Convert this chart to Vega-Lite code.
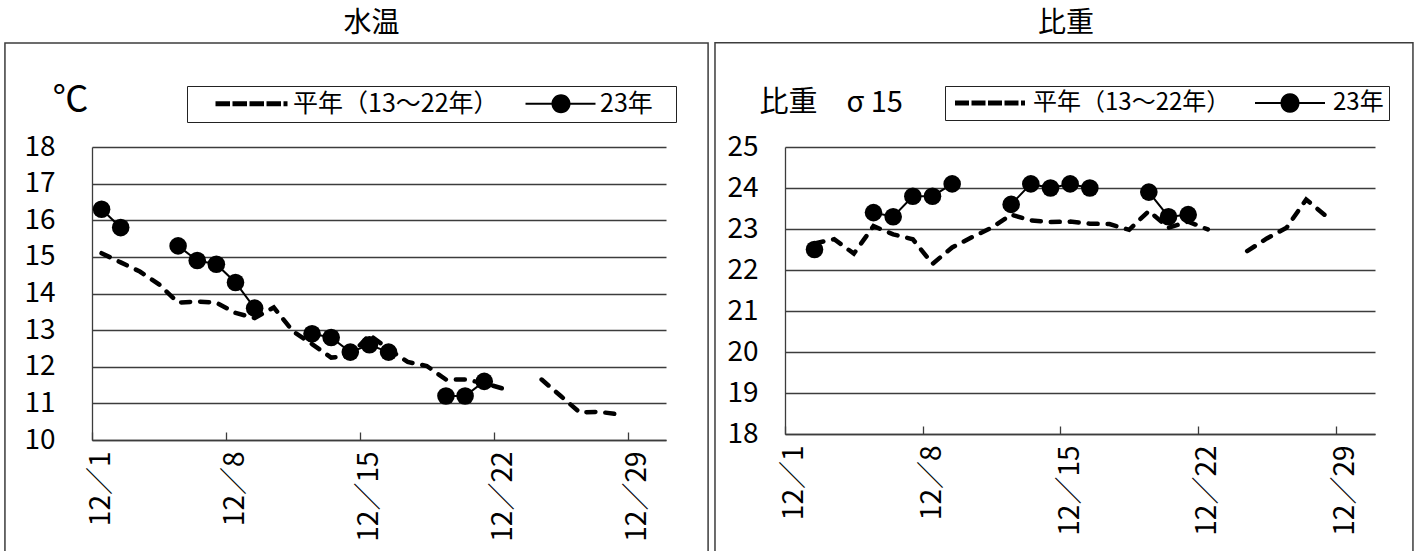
{
  "$schema": "https://vega.github.io/schema/vega-lite/v6.json",
  "padding": {"left": 4, "top": 10, "right": 0, "bottom": 0},
  "spacing": 5,
  "background": "white",
  "config": {
    "view": {"stroke": null},
    "font": "Noto Sans CJK JP",
    "axis": {"labelFont": "Noto Sans CJK JP", "titleFont": "Noto Sans CJK JP", "labelColor": "#000", "titleColor": "#000", "titleFontWeight": "normal", "labelOverlap": false, "domainColor": "#3c3c3c", "domainWidth": 1.3, "labelFontSize": 28},
    "axisX": {"labelExpr": "'12／' + datum.value", "labelAngle": 270, "labelPadding": 19, "tickSize": -8, "tickColor": "#3c3c3c", "tickWidth": 1.3, "grid": false, "labelBound": false, "labelFlush": false},
    "axisY": {"grid": true, "gridColor": "#3c3c3c", "gridWidth": 1.3, "ticks": false, "titleAngle": 0, "titleAlign": "left", "titleBaseline": "alphabetic", "titleY": -36, "format": "d"},
    "legend": {"labelFont": "Noto Sans CJK JP"},
    "title": {"font": "Noto Sans CJK JP", "fontWeight": "normal", "color": "#000"}
  },
  "resolve": {"scale": {"shape": "independent"}, "legend": {"shape": "independent"}},
  "hconcat": [
    {
      "width": 574,
      "height": 293,
      "title": {"text": "水温", "fontSize": 28, "anchor": "middle", "frame": "bounds", "dx": 15, "offset": 4},
      "data": {"values": [
        {"day": 1, "normal": 15.1, "y2023": 16.3},
        {"day": 2, "normal": 14.85, "y2023": 15.8},
        {"day": 3, "normal": 14.6, "y2023": null},
        {"day": 4, "normal": 14.25, "y2023": null},
        {"day": 5, "normal": 13.75, "y2023": 15.3},
        {"day": 6, "normal": 13.78, "y2023": 14.9},
        {"day": 7, "normal": 13.75, "y2023": 14.8},
        {"day": 8, "normal": 13.47, "y2023": 14.3},
        {"day": 9, "normal": 13.33, "y2023": 13.6},
        {"day": 10, "normal": 13.62, "y2023": null},
        {"day": 11, "normal": 12.97, "y2023": null},
        {"day": 12, "normal": 12.62, "y2023": 12.9},
        {"day": 13, "normal": 12.25, "y2023": 12.8},
        {"day": 14, "normal": 12.3, "y2023": 12.4},
        {"day": 15, "normal": 12.87, "y2023": 12.6},
        {"day": 16, "normal": 12.48, "y2023": 12.4},
        {"day": 17, "normal": 12.13, "y2023": null},
        {"day": 18, "normal": 12.02, "y2023": null},
        {"day": 19, "normal": 11.65, "y2023": 11.2},
        {"day": 20, "normal": 11.65, "y2023": 11.2},
        {"day": 21, "normal": 11.55, "y2023": 11.6},
        {"day": 22, "normal": 11.4, "y2023": null},
        {"day": 23, "normal": null, "y2023": null},
        {"day": 24, "normal": 11.65, "y2023": null},
        {"day": 25, "normal": 11.2, "y2023": null},
        {"day": 26, "normal": 10.75, "y2023": null},
        {"day": 27, "normal": 10.77, "y2023": null},
        {"day": 28, "normal": 10.7, "y2023": null}
      ]},
      "layer": [
        {
          "data": {"values": [{}]},
          "mark": {"type": "rect", "fill": "white", "fillOpacity": 0, "stroke": "#3c3c3c", "strokeWidth": 1.5},
          "encoding": {
            "x": {"datum": -4.05, "type": "quantitative", "scale": {"domain": [0.5, 30.5], "nice": false, "zero": false},
              "axis": {"title": null, "values": [1, 8, 15, 22, 29], "tickCount": 40, "tickOffset": -9.567, "labelOffset": 9.567}},
            "x2": {"datum": 32.7},
            "y": {"datum": 20.84, "type": "quantitative", "scale": {"domain": [10, 18], "nice": false, "zero": false},
              "axis": {"title": "℃", "values": [10, 11, 12, 13, 14, 15, 16, 17, 18], "tickCount": 40, "format": "d", "labelPadding": 37, "titleX": -40, "titleFontSize": 36}},
            "y2": {"datum": 6.7}
          }
        },
        {
          "mark": {"type": "line", "color": "#000", "strokeWidth": 4.5, "strokeDash": [9, 10], "strokeCap": "round", "invalid": "break-paths-show-domains"},
          "encoding": {
            "x": {"field": "day", "type": "quantitative", "scale": {"domain": [0.5, 30.5], "nice": false, "zero": false},
              "axis": {"title": null, "values": [1, 8, 15, 22, 29], "tickCount": 40, "tickOffset": -9.567, "labelOffset": 9.567}},
            "y": {"field": "normal", "type": "quantitative", "scale": {"domain": [10, 18], "nice": false, "zero": false},
              "axis": {"title": "℃", "values": [10, 11, 12, 13, 14, 15, 16, 17, 18], "tickCount": 40, "format": "d", "labelPadding": 37, "titleX": -40, "titleFontSize": 36}}
          }
        },
        {
          "mark": {"type": "line", "color": "#000", "strokeWidth": 2, "invalid": "break-paths-show-domains"},
          "encoding": {
            "x": {"field": "day", "type": "quantitative", "scale": {"domain": [0.5, 30.5], "nice": false, "zero": false},
              "axis": {"title": null, "values": [1, 8, 15, 22, 29], "tickCount": 40, "tickOffset": -9.567, "labelOffset": 9.567}},
            "y": {"field": "y2023", "type": "quantitative", "scale": {"domain": [10, 18], "nice": false, "zero": false},
              "axis": {"title": "℃", "values": [10, 11, 12, 13, 14, 15, 16, 17, 18], "tickCount": 40, "format": "d", "labelPadding": 37, "titleX": -40, "titleFontSize": 36}}
          }
        },
        {
          "mark": {"type": "circle", "color": "#000", "size": 310, "opacity": 1},
          "encoding": {
            "x": {"field": "day", "type": "quantitative", "scale": {"domain": [0.5, 30.5], "nice": false, "zero": false},
              "axis": {"title": null, "values": [1, 8, 15, 22, 29], "tickCount": 40, "tickOffset": -9.567, "labelOffset": 9.567}},
            "y": {"field": "y2023", "type": "quantitative", "scale": {"domain": [10, 18], "nice": false, "zero": false},
              "axis": {"title": "℃", "values": [10, 11, 12, 13, 14, 15, 16, 17, 18], "tickCount": 40, "format": "d", "labelPadding": 37, "titleX": -40, "titleFontSize": 36}}
          }
        },
        {
          "data": {"values": []},
          "mark": {"type": "point", "filled": true, "color": "#000", "opacity": 1, "strokeWidth": 0},
          "encoding": {
            "shape": {"field": "series", "type": "nominal",
              "scale": {"domain": ["平年（13〜22年）", "23年\u2800"], "range": [
                "M0.917,-0.217H2.125V0.217H0.917Z M2.333,-0.217H3.542V0.217H2.333Z M3.75,-0.217H4.958V0.217H3.75Z M5.167,-0.217H6.375V0.217H5.167Z M6.583,-0.217H6.917V0.217H6.583Z",
                "M1.167,-0.083H7V0.083H1.167Z M3.333,0A0.792,0.792,0,1,1,4.917,0A0.792,0.792,0,1,1,3.333,0Z"
              ]},
              "legend": {"orient": "none", "legendX": 95, "legendY": -61, "direction": "horizontal", "columns": 2, "title": null, "strokeColor": "#222", "padding": 5, "symbolSize": 576, "symbolStrokeWidth": 0, "symbolFillColor": "#000", "symbolOpacity": 1, "labelFontSize": 25, "labelColor": "#000", "labelOffset": 76, "columnPadding": 0, "labelLimit": 0}
            }
          }
        }
      ]
    },
    {
      "width": 590,
      "height": 287,
      "title": {"text": "比重", "fontSize": 28, "anchor": "middle", "frame": "bounds", "dx": 2, "offset": 4},
      "data": {"values": [
        {"day": 1, "normal": null, "y2023": null},
        {"day": 2, "normal": 22.65, "y2023": 22.5},
        {"day": 3, "normal": 22.75, "y2023": null},
        {"day": 4, "normal": 22.4, "y2023": null},
        {"day": 5, "normal": 23.07, "y2023": 23.4},
        {"day": 6, "normal": 22.87, "y2023": 23.3},
        {"day": 7, "normal": 22.75, "y2023": 23.8},
        {"day": 8, "normal": 22.15, "y2023": 23.8},
        {"day": 9, "normal": 22.55, "y2023": 24.1},
        {"day": 10, "normal": 22.8, "y2023": null},
        {"day": 11, "normal": 23.03, "y2023": null},
        {"day": 12, "normal": 23.35, "y2023": 23.6},
        {"day": 13, "normal": 23.21, "y2023": 24.1},
        {"day": 14, "normal": 23.17, "y2023": 24.0},
        {"day": 15, "normal": 23.18, "y2023": 24.1},
        {"day": 16, "normal": 23.13, "y2023": 24.0},
        {"day": 17, "normal": 23.12, "y2023": null},
        {"day": 18, "normal": 22.98, "y2023": null},
        {"day": 19, "normal": 23.44, "y2023": 23.9},
        {"day": 20, "normal": 23.03, "y2023": 23.3},
        {"day": 21, "normal": 23.18, "y2023": 23.35},
        {"day": 22, "normal": 22.99, "y2023": null},
        {"day": 23, "normal": null, "y2023": null},
        {"day": 24, "normal": 22.46, "y2023": null},
        {"day": 25, "normal": 22.77, "y2023": null},
        {"day": 26, "normal": 23.03, "y2023": null},
        {"day": 27, "normal": 23.72, "y2023": null},
        {"day": 28, "normal": 23.32, "y2023": null}
      ]},
      "layer": [
        {
          "data": {"values": [{}]},
          "mark": {"type": "rect", "fill": "white", "fillOpacity": 0, "stroke": "#3c3c3c", "strokeWidth": 1.5},
          "encoding": {
            "x": {"datum": -3.06, "type": "quantitative", "scale": {"domain": [0.5, 30.5], "nice": false, "zero": false},
              "axis": {"title": null, "values": [1, 8, 15, 22, 29], "tickCount": 40, "tickOffset": -9.833, "labelOffset": 9.833}},
            "x2": {"datum": 32.43},
            "y": {"datum": 27.54, "type": "quantitative", "scale": {"domain": [18, 25], "nice": false, "zero": false},
              "axis": {"title": "比重　σ 15", "values": [18, 19, 20, 21, 22, 23, 24, 25], "tickCount": 40, "format": "d", "labelPadding": 27, "titleX": -26, "titleFontSize": 29}},
            "y2": {"datum": 14.9}
          }
        },
        {
          "mark": {"type": "line", "color": "#000", "strokeWidth": 4.5, "strokeDash": [9, 10], "strokeCap": "round", "invalid": "break-paths-show-domains"},
          "encoding": {
            "x": {"field": "day", "type": "quantitative", "scale": {"domain": [0.5, 30.5], "nice": false, "zero": false},
              "axis": {"title": null, "values": [1, 8, 15, 22, 29], "tickCount": 40, "tickOffset": -9.833, "labelOffset": 9.833}},
            "y": {"field": "normal", "type": "quantitative", "scale": {"domain": [18, 25], "nice": false, "zero": false},
              "axis": {"title": "比重　σ 15", "values": [18, 19, 20, 21, 22, 23, 24, 25], "tickCount": 40, "format": "d", "labelPadding": 27, "titleX": -26, "titleFontSize": 29}}
          }
        },
        {
          "mark": {"type": "line", "color": "#000", "strokeWidth": 2, "invalid": "break-paths-show-domains"},
          "encoding": {
            "x": {"field": "day", "type": "quantitative", "scale": {"domain": [0.5, 30.5], "nice": false, "zero": false},
              "axis": {"title": null, "values": [1, 8, 15, 22, 29], "tickCount": 40, "tickOffset": -9.833, "labelOffset": 9.833}},
            "y": {"field": "y2023", "type": "quantitative", "scale": {"domain": [18, 25], "nice": false, "zero": false},
              "axis": {"title": "比重　σ 15", "values": [18, 19, 20, 21, 22, 23, 24, 25], "tickCount": 40, "format": "d", "labelPadding": 27, "titleX": -26, "titleFontSize": 29}}
          }
        },
        {
          "mark": {"type": "circle", "color": "#000", "size": 310, "opacity": 1},
          "encoding": {
            "x": {"field": "day", "type": "quantitative", "scale": {"domain": [0.5, 30.5], "nice": false, "zero": false},
              "axis": {"title": null, "values": [1, 8, 15, 22, 29], "tickCount": 40, "tickOffset": -9.833, "labelOffset": 9.833}},
            "y": {"field": "y2023", "type": "quantitative", "scale": {"domain": [18, 25], "nice": false, "zero": false},
              "axis": {"title": "比重　σ 15", "values": [18, 19, 20, 21, 22, 23, 24, 25], "tickCount": 40, "format": "d", "labelPadding": 27, "titleX": -26, "titleFontSize": 29}}
          }
        },
        {
          "data": {"values": []},
          "mark": {"type": "point", "filled": true, "color": "#000", "opacity": 1, "strokeWidth": 0},
          "encoding": {
            "shape": {"field": "series", "type": "nominal",
              "scale": {"domain": ["平年（13〜22年）", "23年"], "range": [
                "M-0.583,-0.217H0.583V0.217H-0.583Z M0.792,-0.217H1.958V0.217H0.792Z M2.167,-0.217H3.333V0.217H2.167Z M3.542,-0.217H4.708V0.217H3.542Z M4.917,-0.217H5.25V0.217H4.917Z",
                "M-0.583,-0.083H5.25V0.083H-0.583Z M1.542,0A0.792,0.792,0,1,1,3.125,0A0.792,0.792,0,1,1,1.542,0Z"
              ]},
              "legend": {"orient": "none", "legendX": 160, "legendY": -61, "direction": "horizontal", "columns": 2, "title": null, "strokeColor": "#222", "padding": 5, "symbolSize": 576, "symbolStrokeWidth": 0, "symbolFillColor": "#000", "symbolOpacity": 1, "labelFontSize": 24, "labelColor": "#000", "labelOffset": 59, "columnPadding": 19, "labelLimit": 0}
            }
          }
        }
      ]
    }
  ]
}
